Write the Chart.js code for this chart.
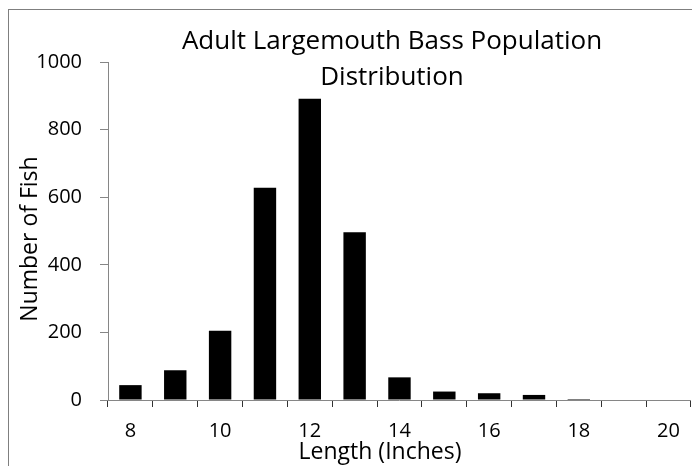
<!DOCTYPE html>
<html>
<head>
<meta charset="utf-8">
<script src="https://cdn.jsdelivr.net/npm/chart.js@4/dist/chart.umd.min.js"></script>
<style>
  html, body { margin: 0; padding: 0; background: #fff; }
  #wrap { width: 692px; height: 466px; position: relative; }
</style>
</head>
<body>
<div id="wrap"><canvas id="chart"></canvas></div>
<script>
// ── Data ────────────────────────────────────────────────────────────────────
const lengths = ['8', '9', '10', '11', '12', '13', '14', '15', '16', '17', '18', '19', '20'];
const fishCounts = [44, 88, 205, 628, 891, 496, 67, 25, 20, 15, 3, 0, 0];
const yTicks = [0, 200, 400, 600, 800, 1000];
const titleLines = ['Adult Largemouth Bass Population', 'Distribution'];
const xTitle = 'Length (Inches)';
const yTitle = 'Number of Fish';

const fontFamily = '"Open Sans", "Noto Sans", sans-serif';
const axisGray = '#868686';

// Frame + titles drawn by hand so they can sit off-centre like the original
const framePlugin = {
  id: 'frameAndTitles',
  beforeDraw(chart) {
    const { ctx, width, height } = chart;
    ctx.save();
    ctx.strokeStyle = '#7f7f7f';
    ctx.lineWidth = 1;
    ctx.strokeRect(8.5, 9.5, width + 10, height + 10);
    ctx.restore();
  },
  afterDraw(chart) {
    const { ctx, chartArea } = chart;
    ctx.save();
    ctx.fillStyle = '#000';
    ctx.textAlign = 'center';
    ctx.textBaseline = 'alphabetic';
    ctx.font = `26px ${fontFamily}`;
    ctx.fillText(titleLines[0], 392, 49);
    ctx.fillText(titleLines[1], 392, 85);

    ctx.font = `23px ${fontFamily}`;
    ctx.fillText(xTitle, 380, 459);

    ctx.translate(37, (chartArea.top + chartArea.bottom) / 2 + 8);
    ctx.rotate(-Math.PI / 2);
    ctx.fillText(yTitle, 0, 0);
    ctx.restore();
  },
};

new Chart(document.getElementById('chart'), {
  type: 'bar',
  data: {
    labels: lengths,
    datasets: [{
      data: fishCounts,
      backgroundColor: '#000',
      borderWidth: 0,
      categoryPercentage: 1,
      barPercentage: 0.5,
    }],
  },
  options: {
    responsive: true,
    maintainAspectRatio: false,
    animation: false,
    layout: { padding: { top: 62, right: 1, bottom: 0, left: 0 } },
    plugins: {
      legend: { display: false },
      tooltip: { enabled: false },
      title: { display: false },
    },
    scales: {
      x: {
        grid: {
          offset: true,
          drawOnChartArea: false,
          drawTicks: true,
          tickLength: 7,
          color: '#333',
        },
        border: { color: axisGray, width: 1 },
        ticks: {
          color: '#000',
          font: { family: fontFamily, size: 20 },
          maxRotation: 0,
          autoSkip: false,
          padding: 12,
          callback: (val, i) => (i % 2 === 0 ? lengths[i] : ''),
        },
        afterFit(scale) { scale.height = 66; },
      },
      y: {
        min: 0,
        max: 1000,
        afterBuildTicks(scale) { scale.ticks = yTicks.map(v => ({ value: v })); },
        grid: {
          drawOnChartArea: false,
          drawTicks: true,
          tickLength: 8,
          color: axisGray,
        },
        border: { color: axisGray, width: 1 },
        ticks: {
          color: '#000',
          font: { family: fontFamily, size: 20 },
          padding: 18,
          callback: v => String(v),
        },
        afterFit(scale) { scale.width = 108; },
      },
    },
  },
  plugins: [framePlugin],
});
</script>
</body>
</html>
